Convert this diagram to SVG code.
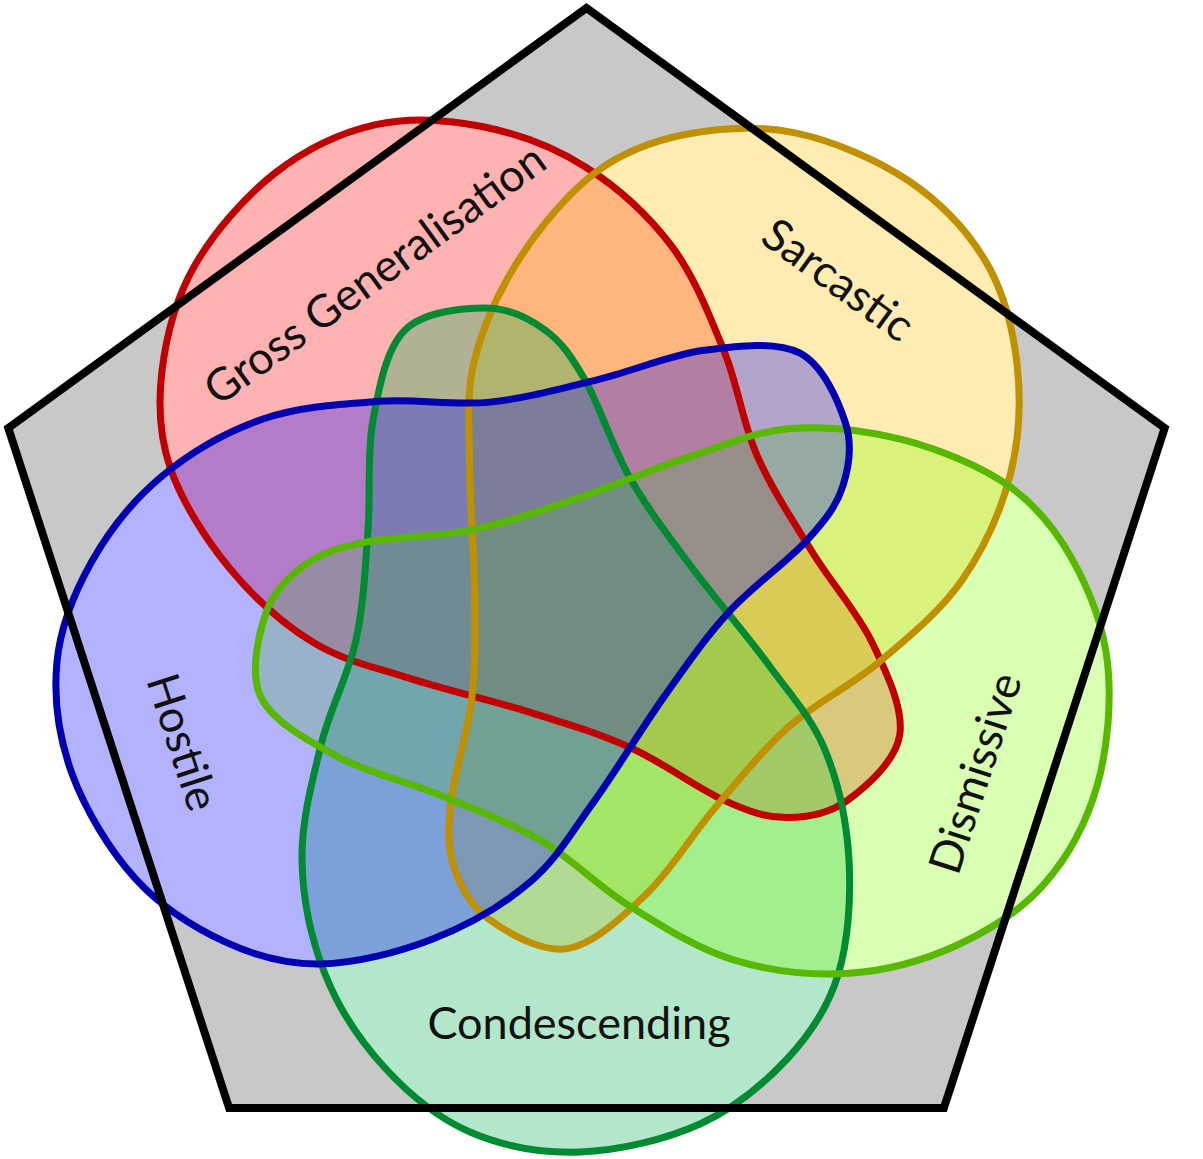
<svg xmlns="http://www.w3.org/2000/svg" xmlns:xlink="http://www.w3.org/1999/xlink" width="1203" height="1159" viewBox="0 0 1203 1159">
  <style>
    .lbl { font-family: Lato, "Noto Sans", "Liberation Sans", sans-serif; font-size: 45px; fill: #111; text-anchor: middle; }
    .fill { fill-opacity: 0.3; stroke: none; }
    .under { fill: #fff; stroke: none; }
    .edge { fill: none; stroke-width: 7; }
  </style>
  <defs>
    <path id="petal" d="M486,308 C509.3,308 528.5,318 545,330 C561.5,342 570.8,355.3 585,380 C599.2,404.7 612.5,447.2 630,478 C647.5,508.8 667,534 690,565 C713,596 745.5,633.2 768,664 C790.5,694.8 811.5,717.3 825,750 C838.5,782.7 846.8,822.5 849,860 C851.2,897.5 848.2,942 838,975 C827.8,1008 811,1033.2 788,1058 C765,1082.8 734.7,1108.3 700,1124 C665.3,1139.7 618.3,1150.7 580,1152 C541.7,1153.3 502.5,1146 470,1132 C437.5,1118 409.2,1094.3 385,1068 C360.8,1041.7 338.8,1008.7 325,974 C311.2,939.3 302.7,898.2 302,860 C301.3,821.8 312,781.7 321,745 C330,708.3 348.2,675.8 356,640 C363.8,604.2 365.2,566.7 368,530 C370.8,493.3 366.8,453.3 373,420 C379.2,386.7 386.2,348.7 405,330 C423.8,311.3 462.7,308 486,308 Z"/>
  </defs>

  <polygon id="universe-fill" points="586.5,8 1164.7,428.1 943.9,1107.9 229.1,1107.9 8.3,428.1" fill="#c8c8c8"/>

  <g id="underlay">
    <use xlink:href="#petal" href="#petal" class="under" transform="rotate(144 586.5 613)"/>
    <use xlink:href="#petal" href="#petal" class="under" transform="rotate(216 586.5 613)"/>
    <use xlink:href="#petal" href="#petal" class="under"/>
    <use xlink:href="#petal" href="#petal" class="under" transform="rotate(288 586.5 613)"/>
    <use xlink:href="#petal" href="#petal" class="under" transform="rotate(72 586.5 613)"/>
  </g>

  <g id="set-gross-generalisation">
    <use xlink:href="#petal" href="#petal" class="fill" fill="#ff0000" transform="rotate(144 586.5 613)"/>
  </g>
  <g id="set-sarcastic">
    <use xlink:href="#petal" href="#petal" class="fill" fill="#ffc000" transform="rotate(216 586.5 613)"/>
  </g>
  <g id="set-condescending">
    <use xlink:href="#petal" href="#petal" class="fill" fill="#00b050"/>
  </g>
  <g id="set-dismissive">
    <use xlink:href="#petal" href="#petal" class="fill" fill="#80ff00" transform="rotate(288 586.5 613)"/>
  </g>
  <g id="set-hostile">
    <use xlink:href="#petal" href="#petal" class="fill" fill="#0000ff" transform="rotate(72 586.5 613)"/>
  </g>

  <g id="outlines">
    <use xlink:href="#petal" href="#petal" class="edge" stroke="#c00000" transform="rotate(144 586.5 613)"/>
    <use xlink:href="#petal" href="#petal" class="edge" stroke="#bf9000" transform="rotate(216 586.5 613)"/>
    <use xlink:href="#petal" href="#petal" class="edge" stroke="#008a32"/>
    <use xlink:href="#petal" href="#petal" class="edge" stroke="#58b800" transform="rotate(288 586.5 613)"/>
    <use xlink:href="#petal" href="#petal" class="edge" stroke="#0000b0" transform="rotate(72 586.5 613)"/>
  </g>

  <polygon id="universe-outline" points="586.5,8 1164.7,428.1 943.9,1107.9 229.1,1107.9 8.3,428.1" fill="none" stroke="#000" stroke-width="8"/>

  <g id="labels">
    <text class="lbl" transform="translate(374.5,274) rotate(-36)" y="16">Gross Generalisation</text>
    <text class="lbl" transform="translate(838.5,279.5) rotate(36)" y="16">Sarcastic</text>
    <text class="lbl" transform="translate(975,773) rotate(-72)" y="16">Dismissive</text>
    <text class="lbl" transform="translate(579,1023) " y="16">Condescending</text>
    <text class="lbl" transform="translate(183,742) rotate(72)" y="16">Hostile</text>
  </g>
</svg>
